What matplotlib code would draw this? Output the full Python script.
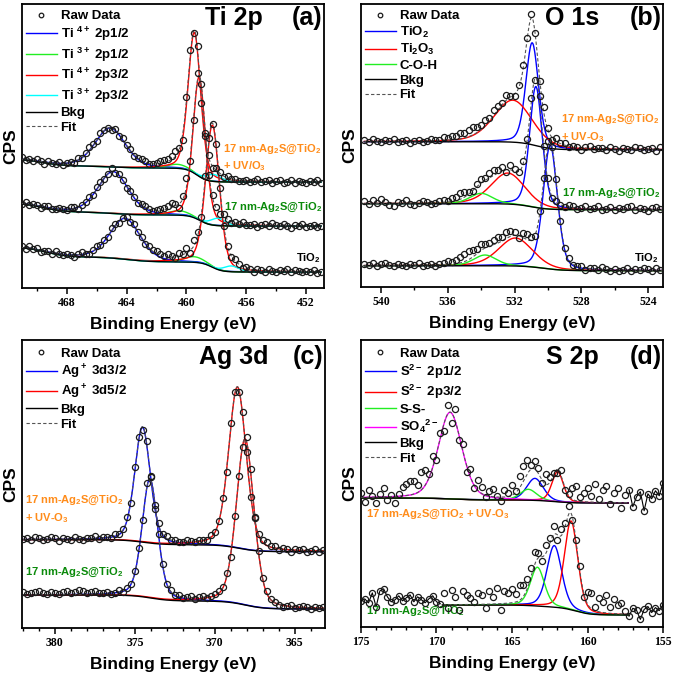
import numpy as np
import matplotlib
matplotlib.use("Agg")
import matplotlib.pyplot as plt
from matplotlib.ticker import MultipleLocator

# =============================================================================
# STYLE
# =============================================================================

plt.rcParams["font.family"] = "Liberation Sans"
plt.rcParams["font.weight"] = "bold"
plt.rcParams["axes.labelweight"] = "bold"
plt.rcParams["mathtext.fontset"] = "custom"
plt.rcParams["mathtext.rm"] = "Liberation Sans:bold"
plt.rcParams["mathtext.it"] = "Liberation Sans:bold"
plt.rcParams["mathtext.bf"] = "Liberation Sans:bold"
plt.rcParams["axes.linewidth"] = 1.3

BLUE, GREEN, RED, CYAN, MAGENTA = "#0000ff", "#22ee22", "#ff0000", "#00ffff", "#ff00ff"
ORANGE, DKGREEN = "#ff8c1a", "#0a8a0a"

# =============================================================================
# DATA  (intensity in arbitrary CPS units, traces listed top -> bottom)
# peaks: (centre eV, height, FWHM eV) ; steps: (position eV, height, width eV)
# =============================================================================

# ---- (a) Ti 2p : UV/O3 treated, 17 nm-Ag2S@TiO2, TiO2 ----
TI_RANGE = (471.0, 451.0)
TI_4_12 = [(465.1, 39, 2.4), (464.9, 42, 2.4), (464.1, 41, 2.4)]
TI_3_12 = [(460.6, 4, 1.6), (460.5, 4.5, 1.6), (459.5, 5.6, 1.6)]
TI_4_32 = [(459.47, 141, 1.0), (459.15, 143, 1.0), (458.26, 142, 1.1)]
TI_3_32 = [(458.2, 7, 1.2), (457.9, 7.4, 1.2), (457.0, 5.8, 1.2)]
TI_BKG = [106, 62, 16]
TI_STEPS = [
    [(459.3, 14, 0.35), (465.0, 2, 0.8), (469.6, 7, 0.7)],
    [(459.1, 11, 0.35), (465.0, 3, 0.8), (469.6, 9, 0.7)],
    [(458.3, 10, 0.35), (464.0, 5, 0.8), (469.4, 10, 0.7)],
]
TI_RES = [
    [2, 0, 1, -1, 2, 0, -2, 1, 0, -1, 1, -2, 0, 1, -1, 2, 0, 1, 3, 1,
     -1, 2, 1, 0, -2, 1, -1, 2, 0, 1, -1, 0, 2, 1, -1, 0, 1, 2, 3, 2,
     4, 6, 2, -6, 4, 7, -3, 5, -4, 2, 3, -2, 2, 1, -1, 2, 0, 1, -1, 0,
     1, -1, 0, 2, -1, 0, 1, -2, 0, 1, -1, 0, 2, -1, 1, 0, -1, 1, 0, 2, -1],
    [0, 2, -1, 1, 0, -2, 1, 2, -1, 0, 1, 0, -1, 2, 1, -2, 0, 1, 2, -1,
     2, 1, -1, 0, 3, -1, 1, 0, -2, 1, 0, -1, 1, 2, 0, -1, 1, 2, 2, 3,
     5, 2, -4, 3, 9, -2, -5, 6, 2, -3, -2, 3, 1, -1, 2, 0, -1, 1, 0, 2,
     -1, 0, 1, -2, 0, 1, -1, 2, 0, -1, 1, 0, -2, 1, 0, 2, -1, 0, 1, -1, 0],
    [1, -1, 2, 0, 1, -2, 0, 1, -1, 2, 0, -1, 1, 0, -2, 1, 2, 0, -1, 1,
     2, 0, 1, -1, 2, 1, -2, 0, 1, -1, 2, 0, 1, -1, 2, 1, 3, 2, 1, 4,
     2, -1, 3, 1, 5, -3, 6, 4, -2, 3, 2, -1, 3, 2, 0, 1, -1, 2, 0, -1,
     1, 0, -2, 1, 0, -1, 2, 0, -1, 1, 0, 2, -1, 1, 0, -1, 1, 0, 2, -1, 0],
]

# ---- (b) O 1s ----
O_RANGE = (541.0, 523.0)
O_TIO2 = [(530.94, 102, 0.9), (530.72, 121, 0.9), (529.86, 124, 1.0)]
O_TI2O3 = [(532.1, 42, 2.7), (532.4, 31, 2.4), (531.94, 28, 2.4)]
O_COH = [None, (534.0, 10.4, 1.6), (533.77, 10.7, 1.6)]
O_BKG = [137.3, 77.3, 16.3]
O_STEPS = [[(530.7, 8, 0.5)], [(531.0, 6, 0.5)], [(530.3, 5, 0.6)]]
O_RES = [
    [1, -1, 2, 0, -1, 1, 0, 2, -1, 0, 1, -2, 0, 1, -1, 0, 2, 1, 0, 3,
     2, 4, 3, 6, 5, 7, 8, 6, 4, 5, 3, 6, 4, 2, 5, 1, -2, 3, 5, 2,
     4, 2, -3, 5, 2, -2, 3, 1, 2, -1, 1, 0, -2, 1, 2, -1, 0, 1, -1, 2,
     0, -2, 1, 0, -1, 2, 1, -1, 0, 1, -2, 2, 0],
    [2, -1, 3, 0, 4, 1, -2, -3, 1, 0, 3, -1, -2, 0, 2, 1, -1, 0, 1, 2,
     1, 3, 4, 6, 5, 2, 0, 3, 4, 2, 5, 6, 3, 4, -2, 5, 2, -1, 4, 3,
     5, -2, 4, 1, 3, -1, 2, 0, -1, 2, 1, -1, 0, 2, -1, 1, 3, -1, 0, 2,
     -1, 1, 0, 2, 3, -1, 1, 0, -2, 1, 2, 0, -1],
    [1, 0, 2, -1, 1, 2, 0, -1, 1, 0, -1, 1, 0, 2, -1, 0, 1, -1, 1, 2,
     3, 2, 4, 6, 8, 9, 7, 5, 6, 4, 3, 5, 6, 4, 7, 5, 3, -2, 4, 6,
     3, -2, 4, 2, 5, -1, 3, 1, 0, 2, -1, 0, 1, -2, 0, 1, -1, 2, 0, -1,
     1, -1, 0, 2, -1, 1, 0, 2, 1, -1, 2, 0, 1],
]

# ---- (c) Ag 3d : UV-O3 treated, as-made ----
AG_RANGE = (382.0, 363.0)
AG_32 = [(374.52, 115, 1.15), (374.06, 119, 1.15)]
AG_52 = [(368.58, 161, 1.3), (368.1, 166, 1.3)]
AG_BKG = [76.3, 19]
AG_STEPS = [[(374.5, 5, 0.6), (368.5, 7, 0.6)], [(374.0, 6, 0.6), (368.1, 8, 0.6)]]
AG_RES = [
    [0, 1, -1, 2, 1, -1, 0, 2, 1, -2, 1, 0, -1, 2, 0, -1, 1, 0, 2, -1,
     1, 0, -1, 2, 0, 1, 3, -2, 4, 2, -3, 4, 2, -2, 3, 1, 2, 0, 1, -1,
     -1, 1, 0, -1, 1, 0, -1, 2, 0, 1, 3, -4, 5, 2, -3, 4, 6, -2, 3, 1,
     2, 3, 1, 2, -1, 1, 0, -2, 1, 0, 1, -1, 0, 2, -1, 1, 2],
    [3, 1, 2, 3, 4, 2, 1, 3, 2, 0, 2, 3, 1, 2, 4, 3, 1, 2, 3, 1,
     0, 1, -1, 0, 2, -1, 1, 0, 2, 3, -2, 4, 2, -3, 3, 2, -1, 1, 0, 1,
     -1, 0, 1, -1, 0, 1, -1, 0, 1, 2, 1, 3, -3, 4, 2, -2, 5, 3, -2, 2,
     1, 2, 0, 1, -1, -2, 0, 1, -1, 0, 1, 0, -1, 1, 0, 1, -1],
]

# ---- (d) S 2p : UV-O3 treated, as-made ----
S_RANGE = (175.0, 155.0)
S_FIT = [(175.0, 157.3), (169.6, 157.3)]
S_2P12 = [(163.48, 22, 1.3), (162.2, 61.6, 1.15)]
S_2P32 = [(161.98, 30.2, 0.9), (161.09, 88.8, 1.05)]
S_SS = [(163.92, 10.9, 1.3), (163.32, 38.8, 1.1)]
S_SO4 = [(169.1, 86.6, 1.85), None]
S_BKG = [124, 12]
S_STEPS = [[(162.3, 3, 0.6), (169.0, 2, 0.8)], [(160.8, 8, 0.5), (163.3, 2, 0.6)]]
S_RES = [
    [4, -5, 7, 1, -6, 3, 9, -3, 2, -7, 2, 9, 12, 14, 13, 8, 18, 15, 4, 11,
     -6, 5, -8, 9, -10, 12, -4, 7, -6, 8, -3, 10, 6, -2, 5, 8, 1, -4, 7, 3,
     10, 2, 12, 15, 14, 4, 8, 6, -3, 10, 5, 2, -4, 6, -3, 2, 11, 15, 4, 9,
     14, 6, 18, 3, 12, 16, -2, 10, 15, -5, 8, 13, -4, 6, 11, -8, 9, 4, 12, 7, 20],
    [4, 6, 2, 12, -2, 14, 16, 8, 3, 5, 9, 4, 7, 10, 3, 8, 5, 2, 6, 9,
     3, 1, 12, -3, 15, 8, -5, 14, 10, 6, 2, 11, 9, -4, 13, 7, 16, -6, 12, 10,
     14, 8, 15, 12, 10, 9, 13, 5, -4, 8, 6, 9, -5, 7, 4, 8, -3, 2, 6, -4,
     12, 16, 4, 14, 10, 18, 6, 15, 9, 11, 3, -2, 6, 4, -5, 5, 8, 2, 7, 4, 10],
]

# =============================================================================
# FUNCTIONS
# =============================================================================


def pseudo_voigt(e, c, h, w, eta=0.3):
    x = (e - c) / w
    return h * ((1 - eta) * np.exp(-4 * np.log(2) * x ** 2) + eta / (1 + 4 * x ** 2))


def background(e, low, steps):
    out = np.full(len(e), float(low))
    for c, h, w in steps:
        out += h / (1 + np.exp(-(e - c) / w))
    return out


def trace(ax, e_range, low, steps, comps, res, fit_range=None):
    e_hi, e_lo = e_range
    f_hi, f_lo = fit_range if fit_range else e_range
    e = np.linspace(f_hi, f_lo, 600)
    b = background(e, low, steps)
    total = b.copy()
    handles = []
    for p, col, lab in comps:
        if p is None:
            continue
        y = pseudo_voigt(e, *p)
        total += y
        h, = ax.plot(e, b + y, color=col, lw=1.0, label=lab, zorder=2)
        handles.append(h)
    hb, = ax.plot(e, b, color="k", lw=1.0, label="Bkg", zorder=3)
    hf, = ax.plot(e, total, color="#555555", ls=(0, (3, 2)), lw=0.8, label="Fit", zorder=4)

    er = np.linspace(e_hi, e_lo, len(res))
    raw = background(er, low, steps) + np.asarray(res, float)
    for p, col, lab in comps:
        if p is not None:
            raw += pseudo_voigt(er, *p)
    for m in (er >= f_hi, er <= f_lo):
        if m.sum() > 1:
            ax.plot(er[m], raw[m], color="k", lw=0.8, zorder=3)
    hr, = ax.plot(er, raw, "o", ms=4.4, mfc="none", mec="#1a1a1a", mew=0.9,
                  label="Raw Data", zorder=5)
    return [hr] + handles + [hb, hf]


def frame(ax, xlim, major, minor, height, legend_handles, legend_y, title, tag, title_y):
    ax.set_xlim(*xlim)
    ax.set_ylim(0, height)
    ax.xaxis.set_major_locator(MultipleLocator(major))
    ax.xaxis.set_minor_locator(MultipleLocator(minor))
    ax.set_yticks([])
    ax.tick_params(axis="x", which="major", direction="out", length=4, width=1.1,
                   pad=2.5, labelsize=8.5)
    ax.tick_params(axis="x", which="minor", direction="out", length=2.5, width=1.0)
    plt.setp(ax.get_xticklabels(), fontfamily="Liberation Serif", fontweight="bold")
    ax.set_xlabel("Binding Energy (eV)", fontsize=12.5, fontweight="bold", labelpad=5.5)
    ax.set_ylabel("CPS", fontsize=12.5, fontweight="bold", labelpad=3)
    ax.legend(handles=legend_handles, loc="upper left", bbox_to_anchor=(0.012, legend_y),
              frameon=False, handlelength=2.35, handletextpad=0.3,
              labelspacing=0.18, borderpad=0, borderaxespad=0, numpoints=1,
              markerscale=0.75, prop={"weight": "bold", "size": 9.5})
    ax.text(0.70, title_y, title, transform=ax.transAxes, fontsize=18,
            fontweight="bold", ha="center", va="center")
    ax.text(0.943, title_y, tag, transform=ax.transAxes, fontsize=18,
            fontweight="bold", ha="center", va="center")


def label(ax, x, y, s, color, ha="left"):
    ax.text(x, y, s, transform=ax.transAxes, color=color, fontsize=8,
            fontweight="bold", ha=ha, va="center")


# =============================================================================
# FIGURE
# =============================================================================

fig = plt.figure(figsize=(6.75, 6.75), dpi=100)
W = 675.0
ax_a = fig.add_axes([22 / W, (W - 288) / W, 302 / W, 284 / W])
ax_b = fig.add_axes([361 / W, (W - 287) / W, 302 / W, 283 / W])
ax_c = fig.add_axes([22 / W, (W - 628) / W, 303 / W, 288 / W])
ax_d = fig.add_axes([361 / W, (W - 627) / W, 302 / W, 287 / W])

SAMPLE = "17 nm-Ag$_2$S@TiO$_2$"

# (a) Ti 2p
for i in range(3):
    h = trace(ax_a, TI_RANGE, TI_BKG[i], TI_STEPS[i],
              [(TI_4_12[i], BLUE, "Ti $^{4+}$ 2p1/2"), (TI_3_12[i], GREEN, "Ti $^{3+}$ 2p1/2"),
               (TI_4_32[i], RED, "Ti $^{4+}$ 2p3/2"), (TI_3_32[i], CYAN, "Ti $^{3+}$ 2p3/2")],
              TI_RES[i])
    if i == 0:
        ha = h
frame(ax_a, (471.0, 450.8), 4, 2, 284, ha, 0.978, "Ti 2p", "(a)", 0.95)
label(ax_a, 0.666, 0.489, SAMPLE, ORANGE)
label(ax_a, 0.666, 0.428, "+ UV/O$_3$", ORANGE)
label(ax_a, 0.669, 0.285, SAMPLE, DKGREEN)
label(ax_a, 0.99, 0.106, "TiO$_2$", "black", ha="right")

# (b) O 1s
for i in range(3):
    h = trace(ax_b, O_RANGE, O_BKG[i], O_STEPS[i],
              [(O_TIO2[i], BLUE, "TiO$_2$"), (O_TI2O3[i], RED, "Ti$_2$O$_3$"),
               (O_COH[i], GREEN, "C-O-H")],
              O_RES[i])
    if i == 1:
        hb = h
frame(ax_b, (541.2, 523.1), 4, 2, 283, hb, 0.978, "O 1s", "(b)", 0.95)
label(ax_b, 0.662, 0.593, SAMPLE, ORANGE)
label(ax_b, 0.662, 0.530, "+ UV-O$_3$", ORANGE)
label(ax_b, 0.666, 0.332, SAMPLE, DKGREEN)
label(ax_b, 0.985, 0.102, "TiO$_2$", "black", ha="right")

# (c) Ag 3d
for i in range(2):
    h = trace(ax_c, AG_RANGE, AG_BKG[i], AG_STEPS[i],
              [(AG_32[i], BLUE, "Ag$^+$ 3d3/2"), (AG_52[i], RED, "Ag$^+$ 3d5/2")],
              AG_RES[i])
    if i == 0:
        hc = h
frame(ax_c, (382.06, 363.1), 5, 1, 288, hc, 0.973, "Ag 3d", "(c)", 0.941)
label(ax_c, 0.01, 0.442, SAMPLE, ORANGE)
label(ax_c, 0.01, 0.383, "+ UV-O$_3$", ORANGE)
label(ax_c, 0.01, 0.193, SAMPLE, DKGREEN)

# (d) S 2p
for i in range(2):
    h = trace(ax_d, S_RANGE, S_BKG[i], S_STEPS[i],
              [(S_2P12[i], BLUE, "S$^{2-}$ 2p1/2"), (S_2P32[i], RED, "S$^{2-}$ 2p3/2"),
               (S_SS[i], GREEN, "S-S-"), (S_SO4[i], MAGENTA, "SO$_4$$^{2-}$")],
              S_RES[i], fit_range=S_FIT[i])
    if i == 0:
        hd = h
frame(ax_d, (175.0, 155.0), 5, 1, 287, hd, 0.973, "S 2p", "(d)", 0.941)
label(ax_d, 0.016, 0.394, SAMPLE + " + UV-O$_3$", ORANGE)
label(ax_d, 0.016, 0.056, SAMPLE, DKGREEN)

fig.savefig("out.png", dpi=100)
